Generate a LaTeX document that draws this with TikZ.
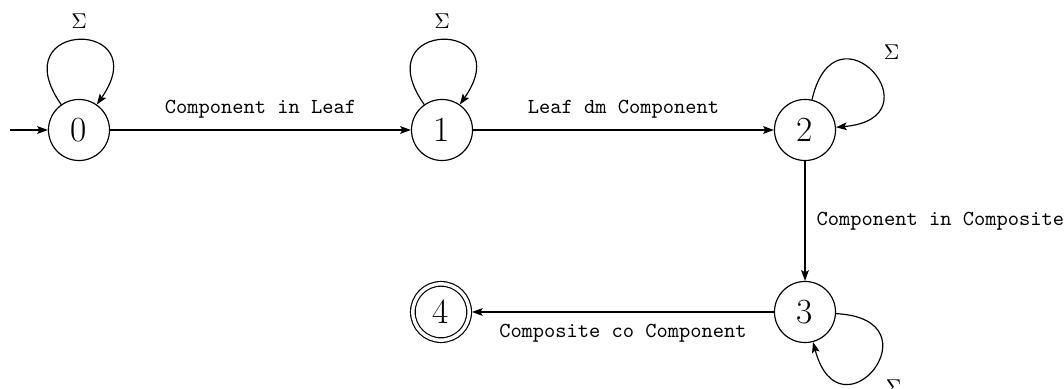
\documentclass[tikz,border=0pt]{standalone}
\usetikzlibrary{arrows.meta}
\begin{document}
\begin{tikzpicture}[x=0.467pt,y=0.467pt,>={Stealth[length=5pt,width=3.6pt,inset=1pt]},
  every path/.style={line width=0.55pt},
  state/.style={circle,draw,minimum size=28.5pt,inner sep=0pt,font=\fontsize{16.5}{20}\selectfont},
  acc/.style={state,double,double distance=1.6pt,minimum size=26.3pt,outer sep=1.3pt},
  lbl/.style={font=\ttfamily,inner sep=5.2pt},
  sig/.style={inner sep=5.2pt},
  selfloop/.style={distance=49pt}]
\useasboundingbox (0,0) rectangle (1064,389);
\node[state] (n0) at (79,259) {0};
\node[state] (n1) at (442,259) {1};
\node[state] (n2) at (805,259) {2};
\node[state] (n3) at (805,77) {3};
\node[acc] (n4) at (441,77) {4};
\coordinate (init) at (10,259);
\draw[->] (init) -- (n0);
\draw[->] (n0) -- node[lbl,above]{Component in Leaf} (n1);
\draw[->] (n1) -- node[lbl,above]{Leaf dm Component} (n2);
\draw[->] (n2) -- node[lbl,right]{Component in Composite} (n3);
\draw[->] (n3) -- node[lbl,below]{Composite co Component} (n4);
\draw[->] (n0.125) to[out=125,in=55,selfloop] node[sig,above]{$\Sigma$} (n0.55);
\draw[->] (n1.125) to[out=125,in=55,selfloop] node[sig,above]{$\Sigma$} (n1.55);
\draw[->] (n2.77) to[out=77,in=5,selfloop] node[sig,above right]{$\Sigma$} (n2.5);
\draw[->] (n3.-3) to[out=-3,in=-75,selfloop] node[sig,below right]{$\Sigma$} (n3.-75);
\end{tikzpicture}
\end{document}
